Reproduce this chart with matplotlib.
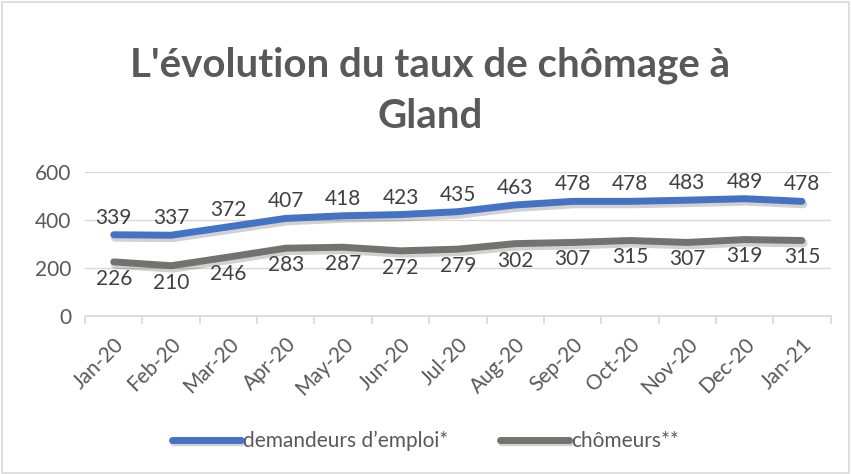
import matplotlib.pyplot as plt
import matplotlib.patheffects as pe

months = ['Jan-20', 'Feb-20', 'Mar-20', 'Apr-20', 'May-20', 'Jun-20', 'Jul-20',
          'Aug-20', 'Sep-20', 'Oct-20', 'Nov-20', 'Dec-20', 'Jan-21']
demandeurs = [339, 337, 372, 407, 418, 423, 435, 463, 478, 478, 483, 489, 478]
chomeurs = [226, 210, 246, 283, 287, 272, 279, 302, 307, 315, 307, 319, 315]

blue = '#4472C4'
grey = '#767171'
txt = '#595959'

plt.rcParams['font.family'] = ['Lato', 'DejaVu Sans']

fig = plt.figure(figsize=(8.51, 4.74), dpi=100)
fig.patches.append(plt.Rectangle((0.002, 0.002), 0.996, 0.994, transform=fig.transFigure,
                                 fill=False, edgecolor='#D9D9D9', linewidth=1.2))
ax = fig.add_axes([0.1, 0.333, 0.876, 0.304])

x = list(range(len(months)))
shadow = [pe.SimpleLineShadow(offset=(1, -2), shadow_color='black', alpha=0.18, linewidth=6),
          pe.Normal()]
ax.plot(x, demandeurs, color=blue, lw=5, solid_capstyle='round', solid_joinstyle='round',
        path_effects=shadow, label='demandeurs d\u2019emploi*')
ax.plot(x, chomeurs, color=grey, lw=5, solid_capstyle='round', solid_joinstyle='round',
        path_effects=shadow, label='ch\u00f4meurs**')

for i, v in enumerate(demandeurs):
    ax.annotate(str(v), (i, v), xytext=(0, 5), textcoords='offset points',
                ha='center', va='bottom', fontsize=15, color='#404040')
for i, v in enumerate(chomeurs):
    ax.annotate(str(v), (i, v), xytext=(0, -5), textcoords='offset points',
                ha='center', va='top', fontsize=15, color='#404040')

ax.set_xlim(-0.5, len(months) - 0.5)
ax.set_ylim(0, 600)
ax.set_yticks([0, 200, 400, 600])
ax.grid(axis='y', color='#D9D9D9', lw=1)
ax.set_axisbelow(True)
for s in ['top', 'right', 'left']:
    ax.spines[s].set_visible(False)
ax.spines['bottom'].set_color('#D9D9D9')
ax.spines['bottom'].set_linewidth(1.2)

ax.set_xticks([i - 0.5 for i in range(len(months) + 1)], minor=False)
ax.set_xticklabels([''] * (len(months) + 1))
ax.set_xticks(x, minor=True)
ax.set_xticklabels(months, minor=True, rotation=45, ha='right', rotation_mode='anchor',
                   fontsize=15, color=txt)
ax.tick_params(axis='x', which='major', length=6, color='#D9D9D9', width=1.2)
ax.tick_params(axis='x', which='minor', length=0, pad=13)
ax.tick_params(axis='y', length=0, labelsize=15, labelcolor=txt, pad=10)

fig.text(0.505, 0.862, "L'\u00e9volution du taux de ch\u00f4mage \u00e0", ha='center', va='center',
         fontsize=29, fontweight='bold', color=txt)
fig.text(0.505, 0.755, 'Gland', ha='center', va='center',
         fontsize=29, fontweight='bold', color=txt)

fig.legend(loc='center', bbox_to_anchor=(0.5, 0.07), ncol=2, frameon=False,
           fontsize=15, labelcolor=txt, handlelength=3.3, handletextpad=0.1, columnspacing=2.5)

fig.savefig('out.png', dpi=100)
